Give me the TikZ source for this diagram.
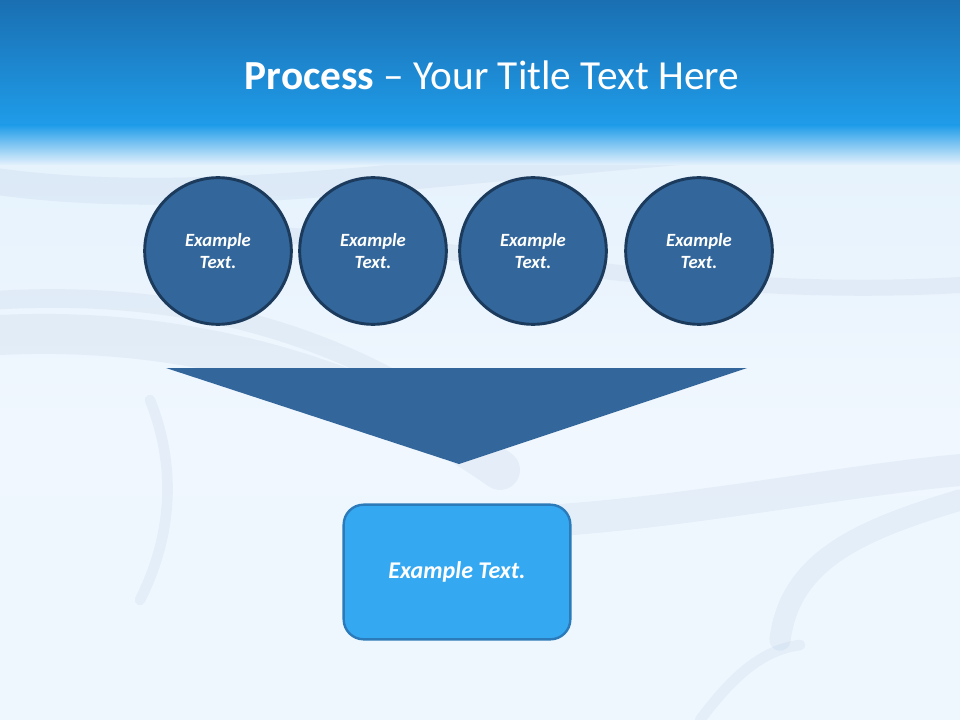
\documentclass[tikz,border=0pt]{standalone}
\usepackage{fontspec}
\setmainfont{Carlito}
\usetikzlibrary{positioning}

\definecolor{headtop}{HTML}{1A6FB2}
\definecolor{headbot}{HTML}{1F9CE9}
\definecolor{bgtop}{HTML}{E4F1FC}
\definecolor{bgmid}{HTML}{F0F7FE}
\definecolor{bgbot}{HTML}{EEF7FE}
\definecolor{swirl}{HTML}{8FA9CC}
\definecolor{stepfill}{HTML}{33669A}
\definecolor{stepline}{HTML}{1B3A5C}
\definecolor{boxfill}{HTML}{35A8F2}
\definecolor{boxline}{HTML}{2B7BBA}

\tikzset{
  stepcircle/.style={circle, fill=stepfill, draw=stepline, line width=2.2pt,
    minimum size=110pt, inner sep=0pt, text=white, align=center,
    font=\fontsize{14}{17}\selectfont\bfseries\itshape},
  resultbox/.style={rectangle, rounded corners=15pt, fill=boxfill, draw=boxline,
    line width=1.8pt, minimum width=170pt, minimum height=101pt,
    text=white, font=\fontsize{18}{21}\selectfont\bfseries\itshape},
  swoosh/.style={draw=swirl, line cap=round, opacity=0.11}
}

\begin{document}
\begin{tikzpicture}[x=0.75pt, y=-0.75pt]
        % 画布
        \useasboundingbox (0,0) rectangle (960,720);
        % 背景
        \shade[top color=bgtop, bottom color=bgmid] (0,120) rectangle (960,420);
        \shade[top color=bgmid, bottom color=bgbot] (0,420) rectangle (960,720);
        % 背景曲线
        \draw[swoosh, line width=20pt] (0,182) .. controls (250,215) and (520,150) .. (960,135);
        \draw[swoosh, line width=12pt] (280,235) .. controls (500,250) and (700,300) .. (960,285);
        \draw[swoosh, line width=30pt] (0,335) .. controls (200,325) and (380,385) .. (500,470);
        \draw[swoosh, line width=14pt] (0,300) .. controls (180,290) and (330,330) .. (460,420);
        \draw[swoosh, line width=8pt] (150,400) .. controls (170,450) and (180,520) .. (140,600);
        \draw[swoosh, line width=24pt] (560,520) .. controls (700,510) and (850,480) .. (960,470);
        \draw[swoosh, line width=16pt] (960,500) .. controls (860,530) and (790,560) .. (780,640);
        \draw[swoosh, line width=8pt] (700,720) .. controls (730,680) and (760,650) .. (800,645);
        % 标题栏
        \shade[top color=headtop, bottom color=headbot] (0,0) rectangle (960,125);
        \shade[top color=headbot, bottom color=bgtop] (0,125) rectangle (960,165);
        \node[text=white, font=\fontsize{31}{37}\selectfont] (title) at (492,75)
          {\textbf{Process} -- Your Title Text Here};
        % 四个圆
        \node[stepcircle] (s1) at (218,251) {Example\\Text.};
        \node[stepcircle] (s2) at (373,251) {Example\\Text.};
        \node[stepcircle] (s3) at (533,251) {Example\\Text.};
        \node[stepcircle] (s4) at (699,251) {Example\\Text.};
        % 漏斗三角形
        \fill[stepfill] (166,368) -- (747,368) -- (459,464) -- cycle;
        % 结果框
        \node[resultbox] (result) at (457,572) {Example Text.};
\end{tikzpicture}
\end{document}
